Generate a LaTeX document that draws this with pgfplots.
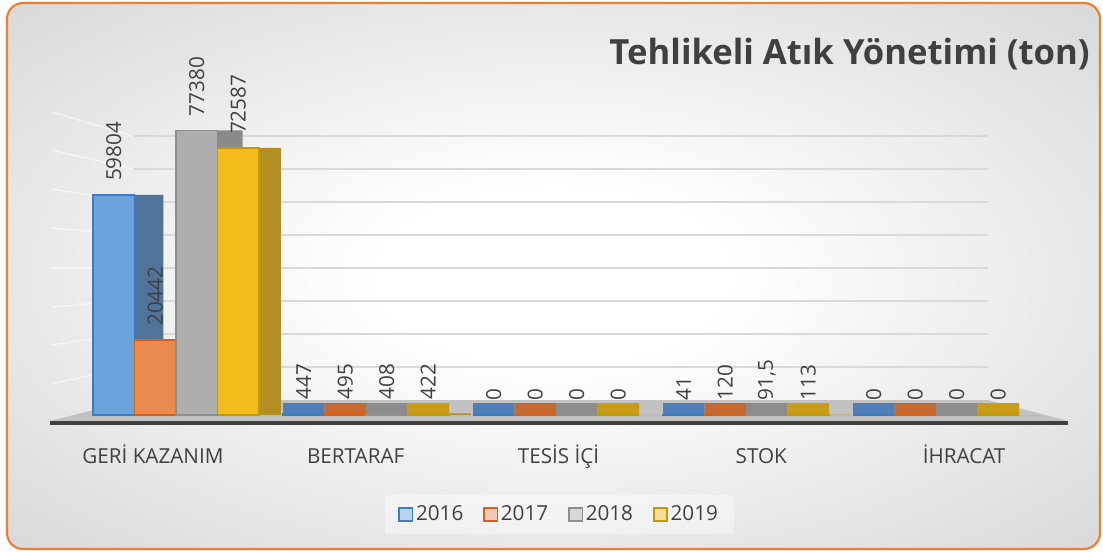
\documentclass[border=0pt]{standalone}
\usepackage{pgfplots}
\pgfplotsset{compat=1.18}
\usepackage{fontspec}
\setmainfont{Open Sans}
\definecolor{txt}{HTML}{404040}
\definecolor{bgedge}{HTML}{C4C4C4}
\definecolor{gridc}{HTML}{D9D9D9}
\definecolor{floorc}{HTML}{C2C2C2}
\definecolor{framec}{HTML}{ED7D31}
\definecolor{bF}{HTML}{6CA3DA}\definecolor{bD}{HTML}{3A7DC2}\definecolor{bS}{HTML}{4F7399}\definecolor{bT}{HTML}{4D80B8}
\definecolor{oF}{HTML}{EB8A4F}\definecolor{oD}{HTML}{D4621F}\definecolor{oS}{HTML}{C06A30}\definecolor{oT}{HTML}{C4692F}
\definecolor{gF}{HTML}{AEAEAE}\definecolor{gD}{HTML}{8E8E8E}\definecolor{gS}{HTML}{8A8A8A}\definecolor{gT}{HTML}{8C8C8C}
\definecolor{yF}{HTML}{F3BB1B}\definecolor{yD}{HTML}{C49A00}\definecolor{yS}{HTML}{B38E22}\definecolor{yT}{HTML}{C89C16}
\pgfdeclareradialshading{bgshade}{\pgfpoint{0bp}{0bp}}{color(0bp)=(white); color(8bp)=(white); color(50bp)=(bgedge)}
\newcommand{\lblfont}{\fontsize{15.5}{18}\selectfont}
\begin{document}
\begin{tikzpicture}
\begin{scope}[x=0.75pt,y=0.75pt]
\path[use as bounding box] (0,0) rectangle (1103,551);
\shade[shading=bgshade, rounded corners=12pt] (7,2) rectangle (1100,548);
\foreach \a/\b in {112/136,150/169,189/202,228/235,268/268,307/300,345/333,384/366}
  \draw[white, opacity=0.55, line width=1.1pt] (52,551-\a) -- (133,551-\b);
\end{scope}
% back wall grid
\begin{axis}[at={(99.75pt,113.25pt)}, anchor=south west, scale only axis,
  width=641.25pt, height=198pt, xmin=0, xmax=1, ymin=0, ymax=80000,
  ytick={10000,20000,...,80000}, xtick=\empty, yticklabels={}, scaled y ticks=false,
  ymajorgrids, major grid style={draw=gridc, line width=1.5pt},
  axis line style={draw=none}, tick style={draw=none}, major tick length=0pt]
\addplot[draw=none] coordinates {(0,0)};
\end{axis}
\begin{scope}[x=0.75pt,y=0.75pt]
\fill[floorc] (50,130) -- (1068,130) -- (988,151) -- (133,151) -- cycle;
\draw[txt, line width=2.6pt] (50,128) -- (1068,128);
\end{scope}
% floor tiles (bar footprints)
\begin{axis}[at={(60.75pt,102pt)}, anchor=south west, scale only axis,
  width=712.5pt, height=9pt, xmin=-0.5, xmax=4.5, ymin=0, ymax=1,
  axis lines=none, ybar, bar width=31.125pt, clip=false]
\addplot[fill=bT, draw=none, bar shift=-46.6875pt] coordinates {(0,1)(1,1)(2,1)(3,1)(4,1)};
\addplot[fill=oT, draw=none, bar shift=-15.5625pt] coordinates {(0,1)(1,1)(2,1)(3,1)(4,1)};
\addplot[fill=gT, draw=none, bar shift=15.5625pt] coordinates {(0,1)(1,1)(2,1)(3,1)(4,1)};
\addplot[fill=yT, draw=none, bar shift=46.6875pt] coordinates {(0,1)(1,1)(2,1)(3,1)(4,1)};
\end{axis}
% category labels
\begin{axis}[at={(38.625pt,102pt)}, anchor=south west, scale only axis,
  width=760.5pt, height=10pt, xmin=-0.5, xmax=4.5, ymin=0, ymax=1,
  xtick={0,1,2,3,4}, xticklabels={GERİ KAZANIM, BERTARAF, TESİS İÇİ, STOK, İHRACAT},
  ytick=\empty, axis line style={draw=none}, tick style={draw=none}, major tick length=0pt,
  xticklabel style={anchor=base, yshift=-36pt, font=\lblfont, text=txt}]
\addplot[draw=none] coordinates {(0,0)};
\end{axis}
% bars
\begin{axis}[at={(60.75pt,102pt)}, anchor=south west, scale only axis,
  width=712.5pt, height=220.8pt, xmin=-0.5, xmax=4.5, ymin=0, ymax=80000,
  axis lines=none, clip=false, ybar, bar width=31.125pt,
  point meta=explicit symbolic,
  every node near coord/.append style={font=\lblfont, text=txt, inner sep=0pt, yshift=10pt, rotate=90, anchor=west},
  legend columns=4,
  legend image code/.code={\draw[#1, line width=1.2pt] (0pt,-5pt) rectangle (10pt,5pt);},
  legend style={at={(0.5037,-0.338)}, anchor=center, draw=none, fill=white, fill opacity=0.4, text opacity=1,
    font=\lblfont, text=txt, inner xsep=10pt, inner ysep=6pt,
    /tikz/every even column/.append style={column sep=13pt}}]
\addplot[fill=bS, draw=none, bar shift=-25pt, forget plot] coordinates {(0,59804)(1,447)(2,0)(3,41)(4,0)};
\addplot[fill=oS, draw=none, bar shift=3.1875pt, forget plot] coordinates {(0,20442)(1,495)(2,0)(3,120)(4,0)};
\addplot[fill=gS, draw=none, bar shift=34.3125pt, forget plot] coordinates {(0,77380)(1,408)(2,0)(3,91.5)(4,0)};
\addplot[fill=yS, draw=none, bar shift=63pt, forget plot] coordinates {(0,72587)(1,422)(2,0)(3,113)(4,0)};
\addplot[fill=bF, draw=bD, line width=1.1pt, bar shift=-46.6875pt, nodes near coords]
  coordinates {(0,59804)[59804] (1,447)[447] (2,0)[0] (3,41)[41] (4,0)[0]};
\addplot[fill=oF, draw=oD, line width=1.1pt, bar shift=-15.5625pt, nodes near coords]
  coordinates {(0,20442)[20442] (1,495)[495] (2,0)[0] (3,120)[120] (4,0)[0]};
\addplot[fill=gF, draw=gD, line width=1.1pt, bar shift=15.5625pt, nodes near coords]
  coordinates {(0,77380)[77380] (1,408)[408] (2,0)[0] (3,91.5)[{91,5}] (4,0)[0]};
\addplot[fill=yF, draw=yD, line width=1.1pt, bar shift=46.6875pt, nodes near coords]
  coordinates {(0,72587)[72587] (1,422)[422] (2,0)[0] (3,113)[113] (4,0)[0]};
\legend{2016,2017,2018,2019}
\end{axis}
\begin{scope}[x=0.75pt,y=0.75pt]
\node[anchor=base east, font=\fontsize{26}{30}\selectfont\bfseries, text=txt, inner sep=0pt] at (1090,486) {Tehlikeli Atık Yönetimi (ton)};
\draw[framec, line width=1.6pt, rounded corners=12pt] (7,2) rectangle (1100,548);
\end{scope}
\end{tikzpicture}
\end{document}
